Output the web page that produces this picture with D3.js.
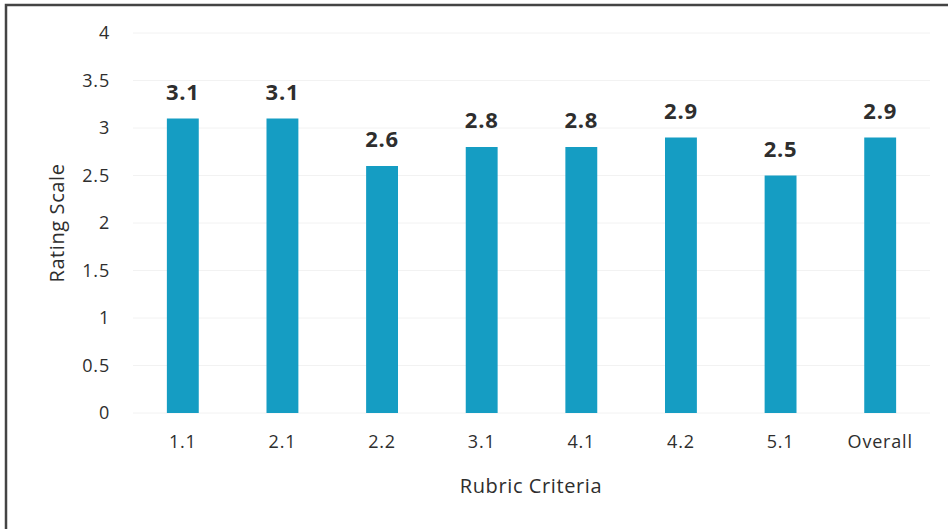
<!DOCTYPE html>
<html>
<head>
<meta charset="utf-8">
<script src="https://cdn.jsdelivr.net/npm/d3@7"></script>
<style>
  body { margin: 0; background: #fff; }
  text { font-family: "Open Sans", sans-serif; }
</style>
</head>
<body>
<div id="chart"></div>
<script>
// --- Data ---
const criteria = ["1.1", "2.1", "2.2", "3.1", "4.1", "4.2", "5.1", "Overall"];
const ratings = [3.1, 3.1, 2.6, 2.8, 2.8, 2.9, 2.5, 2.9];
const yTicks = [0, 0.5, 1, 1.5, 2, 2.5, 3, 3.5, 4];

const W = 948, H = 529;
const svg = d3.select("#chart").append("svg")
  .attr("width", W).attr("height", H);

// --- Frame (left + top edges visible) ---
svg.append("path")
  .attr("d", "M6,529 L6,5 L948,5")
  .attr("fill", "none")
  .attr("stroke", "#444")
  .attr("stroke-width", 2.5);

// --- Scales ---
const x = d3.scaleBand()
  .domain(criteria)
  .range([133, 930])
  .paddingInner(0.68)
  .paddingOuter(0.34);

const y = d3.scaleLinear()
  .domain([0, 4])
  .range([413, 33]);

// --- Gridlines ---
svg.append("g")
  .selectAll("line")
  .data(yTicks)
  .join("line")
  .attr("x1", 133).attr("x2", 930)
  .attr("y1", d => y(d)).attr("y2", d => y(d))
  .attr("stroke", "#f2f2f2")
  .attr("stroke-width", 1);

// --- Y axis ---
const yAxis = svg.append("g")
  .attr("transform", "translate(112,0)")
  .call(d3.axisLeft(y).tickValues(yTicks).tickSize(0).tickPadding(2).tickFormat(d3.format("")));
yAxis.select(".domain").remove();
yAxis.selectAll("text")
  .attr("font-size", "18px")
  .attr("letter-spacing", "0.8px")
  .attr("fill", "#2e2e2e")
  .style("font-family", "'Open Sans', sans-serif");

// --- X axis ---
const xAxis = svg.append("g")
  .attr("transform", "translate(0,413)")
  .call(d3.axisBottom(x).tickSize(0).tickPadding(22));
xAxis.select(".domain").remove();
xAxis.selectAll("text")
  .attr("font-size", "18px")
  .attr("letter-spacing", "0.8px")
  .attr("fill", "#2e2e2e")
  .style("font-family", "'Open Sans', sans-serif");

// --- Bars ---
svg.selectAll("rect.bar")
  .data(criteria)
  .join("rect")
  .attr("class", "bar")
  .attr("x", d => x(d))
  .attr("width", x.bandwidth())
  .attr("y", (d, i) => y(ratings[i]))
  .attr("height", (d, i) => y(0) - y(ratings[i]))
  .attr("fill", "#159dc3");

// --- Value labels ---
svg.selectAll("text.val")
  .data(criteria)
  .join("text")
  .attr("class", "val")
  .attr("x", d => x(d) + x.bandwidth() / 2)
  .attr("y", (d, i) => y(ratings[i]) - 19)
  .attr("text-anchor", "middle")
  .attr("font-size", "22px")
  .attr("letter-spacing", "0.8px")
  .attr("font-weight", "bold")
  .attr("fill", "#2e2e2e")
  .text((d, i) => d3.format(".1f")(ratings[i]));

// --- Axis titles ---
svg.append("text")
  .attr("x", 531)
  .attr("y", 493)
  .attr("text-anchor", "middle")
  .attr("font-size", "20px")
  .attr("letter-spacing", "0.6px")
  .attr("fill", "#2e2e2e")
  .text("Rubric Criteria");

svg.append("text")
  .attr("transform", "translate(64,223) rotate(-90)")
  .attr("text-anchor", "middle")
  .attr("font-size", "20px")
  .attr("letter-spacing", "0.6px")
  .attr("fill", "#2e2e2e")
  .text("Rating Scale");
</script>
</body>
</html>
